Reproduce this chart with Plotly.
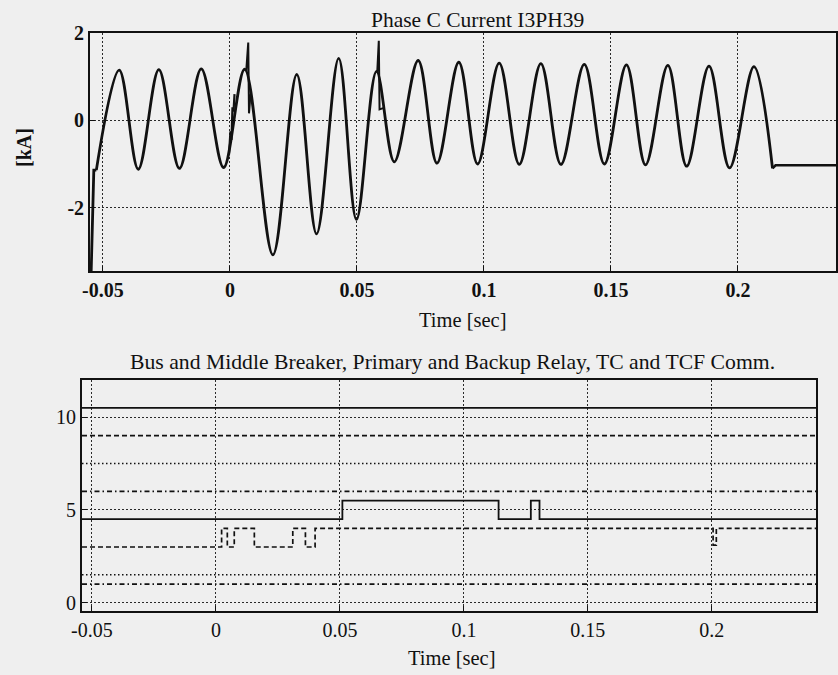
import plotly.graph_objects as go

# ---------------- Phase C current (kA) ----------------
# peaks and troughs of the phase C current waveform, in time order
wave_t = [-0.0526, -0.0436, -0.0361, -0.0280, -0.0199, -0.0113, -0.0025,
          0.0058, 0.0169, 0.0263, 0.0341, 0.0428, 0.0498, 0.0577, 0.0647,
          0.0741, 0.0815, 0.0901, 0.0975, 0.1060, 0.1139, 0.1224, 0.1303,
          0.1395, 0.1474, 0.1561, 0.1636, 0.1724, 0.1798, 0.1886, 0.1967,
          0.2063, 0.2136]
wave_v = [-1.14, 1.15, -1.12, 1.16, -1.10, 1.18, -1.08,
          1.17, -3.08, 1.05, -2.60, 1.42, -2.27, 1.12, -0.95,
          1.37, -0.98, 1.33, -1.00, 1.31, -1.01, 1.30, -1.01,
          1.28, -1.00, 1.27, -1.02, 1.26, -1.05, 1.24, -1.09,
          1.23, -1.10]

# initial transient at the start of the record
lead_t = [-0.0547, -0.0536, -0.0526]
lead_v = [-3.60, -1.14, -1.14]

# fault inception ripple on the rising edge
ripple_t = [-0.0004, 0.0002, 0.0006, 0.0010, 0.0014, 0.0018]
ripple_v = [-0.80, -0.25, -0.45, 0.30, 0.20, 0.60]

# switching spikes
spike1_t = [0.0064, 0.0072, 0.0075, 0.0081]
spike1_v = [1.12, 1.78, 0.16, 0.60]
spike2_t = [0.0580, 0.0586, 0.0589, 0.0603]
spike2_v = [1.12, 1.82, 0.25, 0.28]

# current after the breaker opens
tail_t = [0.2136, 0.2148, 0.2386]
tail_v = [-1.10, -1.03, -1.03]

# ---------------- breaker / relay / communication signals ----------------
sig_t_span = [-0.054, 0.242]
bus_breaker = [10.5, 10.5]          # solid
middle_breaker = [9.0, 9.0]         # dashed
primary_relay = [7.5, 7.5]          # dotted
backup_relay = [6.0, 6.0]           # dash-dot
tc_line = [1.5, 1.5]                # dotted
tcf_line = [1.0, 1.0]               # dash-dot

trip_t = [-0.054, 0.051, 0.114, 0.127, 0.1305, 0.242]
trip_v = [4.5, 5.5, 4.5, 5.5, 4.5, 4.5]

comm_t = [-0.054, 0.0023, 0.0046, 0.0074, 0.0155, 0.0310, 0.0361, 0.0400,
          0.2005, 0.2018, 0.242]
comm_v = [3.0, 4.0, 3.0, 4.0, 3.0, 4.0, 3.0, 4.0, 3.1, 4.0, 4.0]

x_ticks = [-0.05, 0, 0.05, 0.1, 0.15, 0.2]
x_tick_text = ["-0.05", "0", "0.05", "0.1", "0.15", "0.2"]
y1_ticks = [-2, 0, 2]
y1_tick_text = ["-2", "0", "2"]
y2_ticks = [0, 5, 10]
y2_tick_text = ["0", "5", "10"]

INK = "#111111"
FONT = "Liberation Serif"
W, H = 838, 675

fig = go.Figure()


def add(x, y, axis, width=1.6, dash="solid", shape="linear", smoothing=None):
    line = dict(color=INK, width=width, dash=dash, shape=shape)
    if smoothing is not None:
        line["smoothing"] = smoothing
    fig.add_trace(go.Scatter(x=x, y=y, mode="lines", line=line,
                             showlegend=False, hoverinfo="skip",
                             xaxis="x" if axis == 1 else "x2",
                             yaxis="y" if axis == 1 else "y2"))


# top panel
add(lead_t, lead_v, 1, width=2.8)
add(wave_t, wave_v, 1, width=2.8, shape="spline", smoothing=1.0)
add(ripple_t, ripple_v, 1, width=2.2)
add(spike1_t, spike1_v, 1, width=2.0)
add(spike2_t, spike2_v, 1, width=2.0)
add(tail_t, tail_v, 1, width=2.6)

# bottom panel
DOTS = "1.5px,2.5px"
DASH = "5px,3px"
DASHDOT = "5px,3px,1.5px,3px"
add(sig_t_span, bus_breaker, 2, width=1.6)
add(sig_t_span, middle_breaker, 2, width=1.7, dash=DASH)
add(sig_t_span, primary_relay, 2, width=1.5, dash=DOTS)
add(sig_t_span, backup_relay, 2, width=1.7, dash=DASHDOT)
add(trip_t, trip_v, 2, width=1.8, shape="hv")
add(comm_t, comm_v, 2, width=1.7, dash=DASH, shape="hv")
add(sig_t_span, tc_line, 2, width=1.5, dash=DOTS)
add(sig_t_span, tcf_line, 2, width=1.7, dash=DASHDOT)


def axis_style(bold):
    return dict(
        showgrid=True, griddash="2px,2px", gridcolor="#2a2a2a", gridwidth=1,
        showline=True, mirror=True, linecolor=INK, linewidth=1.8,
        ticks="inside", ticklen=5, tickcolor=INK, zeroline=False,
        automargin=False,
        tickfont=dict(family=FONT, size=20, color=INK,
                      weight="bold" if bold else "normal"),
    )


top_y0, top_y1 = 1 - 271 / H, 1 - 33 / H
bot_y0, bot_y1 = 1 - 611 / H, 1 - 380 / H

fig.update_layout(
    width=W, height=H,
    margin=dict(l=0, r=0, t=0, b=0, autoexpand=False),
    paper_bgcolor="#efefef", plot_bgcolor="#efefef",
    xaxis=dict(domain=[90 / W, 836 / W], range=[-0.0551, 0.2386],
               tickvals=x_ticks, ticktext=x_tick_text, anchor="y",
               ticklabelstandoff=0, **axis_style(True)),
    yaxis=dict(domain=[top_y0, top_y1], range=[-3.45, 2],
               tickvals=y1_ticks, ticktext=y1_tick_text, anchor="x",
               ticklabelstandoff=0, **axis_style(True)),
    xaxis2=dict(domain=[82 / W, 816 / W], range=[-0.054, 0.242],
                tickvals=x_ticks, ticktext=x_tick_text, anchor="y2",
                ticklabelstandoff=0, **axis_style(False)),
    yaxis2=dict(domain=[bot_y0, bot_y1], range=[-0.45, 12],
                tickvals=y2_ticks, ticktext=y2_tick_text, anchor="x2",
                ticklabelstandoff=0, **axis_style(False)),
)

labels = [
    ("Phase C Current I3PH39", 478, 20, 0, "normal", 21.5),
    ("Time [sec]", 463, 320, 0, "normal", 20.5),
    ("[kA]", 24, 148, -90, "bold", 20),
    ("Bus and Middle Breaker, Primary and Backup Relay, TC and TCF Comm.", 453, 362, 0, "normal", 21.7),
    ("Time [sec]", 452, 658, 0, "normal", 20.5),
]
for txt, px, py, ang, wt, size in labels:
    fig.add_annotation(text=txt, x=px / W, y=1 - py / H, xref="paper", yref="paper",
                       xanchor="center", yanchor="middle", showarrow=False,
                       textangle=ang,
                       font=dict(family=FONT, size=size, color=INK, weight=wt))

fig.write_html("out.html")
